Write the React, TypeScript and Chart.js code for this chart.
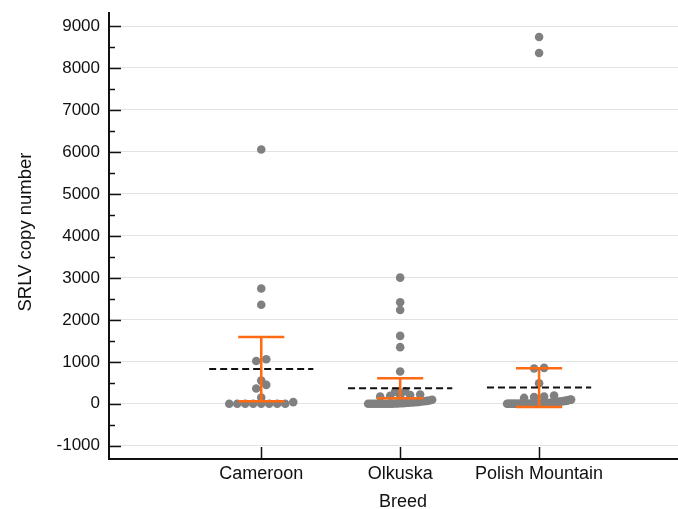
import { useEffect, useRef } from 'react';
import { Chart, registerables } from 'chart.js';

Chart.register(...registerables);

// ---- data ----
const categories = ['Cameroon', 'Olkuska', 'Polish Mountain'];
const xTitle = 'Breed';
const yTitle = 'SRLV copy number';

const cameroonValues = [0, 0, 0, 0, 0, 0, 0, 0, 40, 150, 364, 451, 553, 1021, 1061, 2359, 2748, 6057];

const olkuskaValues = [
  0, 0, 0, 0, 0, 0, 0, 0, 2, 5, 8, 10, 12, 15, 20, 25, 30, 35, 40, 45, 55, 60, 70, 80, 95,
  170, 190, 200, 210, 220, 290, 300,
  769, 1349, 1618, 2236, 2420, 3005,
];

const polishMountainValues = [
  0, 0, 0, 0, 0, 0, 0, 0, 0, 0, 0, 0, 0, 0, 0, 0, 0, 0, 0, 0, 0,
  2, 3, 5, 8, 10, 12, 15, 18, 20, 22, 25, 30, 35, 40, 45, 50, 55, 60, 65, 70, 75, 85, 95, 100,
  140, 160, 175, 195,
  491, 840, 855, 8358, 8739,
];

const groupMeans = [830, 373, 388];
const ciLower = [60, 135, -79];
const ciUpper = [1590, 611, 849];

const yTickValues = [-1000, 0, 1000, 2000, 3000, 4000, 5000, 6000, 7000, 8000, 9000];
const yMinorTickValues = [-500, 500, 1500, 2500, 3500, 4500, 5500, 6500, 7500, 8500];
const yMin = -1315;
const yMax = 9310;
const xMin = -0.096;
const xMax = 4.0;

// ---- layout / style constants ----
const W = 678;
const H = 509;
const LEFT = 109;
const TOP_PAD = 13;
const X_AXIS_H = 50;
const FONT = '"Liberation Sans", Arial, sans-serif';
const TEXT = '#111';
const DOT = '#808080';
const ORANGE = '#FF6A13';

const pxPerUnitX = (W - LEFT) / (xMax - xMin);

function swarm(values: number[], center: number) {
  const sorted = [...values].sort((a, b) => a - b);
  const bins: number[][] = [];
  for (const v of sorted) {
    const last = bins[bins.length - 1];
    if (last && v - last[0] <= 100) last.push(v);
    else bins.push([v]);
  }
  const pts: { x: number; y: number }[] = [];
  for (const bin of bins) {
    const k = bin.length;
    const spacingPx = k > 1 ? Math.min(10, 64 / (k - 1)) : 0;
    bin.forEach((v, i) => {
      pts.push({ x: center + ((i - (k - 1) / 2) * spacingPx) / pxPerUnitX, y: v });
    });
  }
  return pts;
}

const zeroPad = (s: any) => {
  s.paddingTop = 0;
  s.paddingBottom = 0;
  s.paddingLeft = 0;
  s.paddingRight = 0;
};

const overlayPlugin = {
  id: 'overlay',
  beforeDatasetsDraw(chart: any) {
    const { ctx, chartArea, scales } = chart;
    const xs = scales.x;
    const ys = scales.y;
    ctx.save();
    ctx.strokeStyle = TEXT;
    ctx.lineWidth = 1.5;
    const drawY = (v: number, len: number) => {
      const py = Math.round(ys.getPixelForValue(v)) + 0.5;
      ctx.beginPath();
      ctx.moveTo(chartArea.left, py);
      ctx.lineTo(chartArea.left + len, py);
      ctx.stroke();
    };
    yTickValues.forEach((v) => drawY(v, 12));
    yMinorTickValues.forEach((v) => drawY(v, 6));
    categories.forEach((_, i) => {
      const px = Math.round(xs.getPixelForValue(i + 1)) + 0.5;
      ctx.beginPath();
      ctx.moveTo(px, chartArea.bottom);
      ctx.lineTo(px, chartArea.bottom - 12);
      ctx.stroke();
    });
    ctx.restore();
  },
  afterDatasetsDraw(chart: any) {
    const { ctx, scales } = chart;
    const xs = scales.x;
    const ys = scales.y;
    ctx.save();
    ctx.strokeStyle = TEXT;
    ctx.lineWidth = 2;
    ctx.setLineDash([7, 4]);
    groupMeans.forEach((m, i) => {
      const py = ys.getPixelForValue(m);
      ctx.beginPath();
      ctx.moveTo(xs.getPixelForValue(i + 1 - 0.375), py);
      ctx.lineTo(xs.getPixelForValue(i + 1 + 0.375), py);
      ctx.stroke();
    });
    ctx.setLineDash([]);
    ctx.strokeStyle = ORANGE;
    ctx.lineWidth = 2.5;
    categories.forEach((_, i) => {
      const cx = xs.getPixelForValue(i + 1);
      const lo = ys.getPixelForValue(ciLower[i]);
      const hi = ys.getPixelForValue(ciUpper[i]);
      const c1 = xs.getPixelForValue(i + 1 - 0.166);
      const c2 = xs.getPixelForValue(i + 1 + 0.166);
      ctx.beginPath();
      ctx.moveTo(cx, lo);
      ctx.lineTo(cx, hi);
      ctx.moveTo(c1, hi);
      ctx.lineTo(c2, hi);
      ctx.moveTo(c1, lo);
      ctx.lineTo(c2, lo);
      ctx.stroke();
    });
    ctx.restore();
  },
  afterDraw(chart: any) {
    const { ctx } = chart;
    ctx.save();
    ctx.fillStyle = TEXT;
    ctx.font = `18px ${FONT}`;
    ctx.textAlign = 'center';
    ctx.textBaseline = 'alphabetic';
    ctx.fillText(xTitle, 403, 507);
    ctx.translate(31, 232);
    ctx.rotate(-Math.PI / 2);
    ctx.font = `18.5px ${FONT}`;
    ctx.fillText(yTitle, 0, 0);
    ctx.restore();
  },
};

export default function App() {
  const ref = useRef<HTMLCanvasElement | null>(null);

  useEffect(() => {
    if (!ref.current) return;
    const points = [
      ...swarm(cameroonValues, 1),
      ...swarm(olkuskaValues, 2),
      ...swarm(polishMountainValues, 3),
    ];
    const chart = new Chart(ref.current, {
      type: 'scatter',
      data: {
        datasets: [
          {
            data: points,
            backgroundColor: DOT,
            borderWidth: 0,
            pointRadius: 4.3,
            pointHoverRadius: 4.3,
          },
        ],
      },
      options: {
        animation: false,
        responsive: false,
        maintainAspectRatio: false,
        layout: { autoPadding: false, padding: { top: TOP_PAD, right: 0, left: 0, bottom: 0 } },
        plugins: { legend: { display: false }, tooltip: { enabled: false } },
        scales: {
          x: {
            type: 'linear',
            min: xMin,
            max: xMax,
            afterFit: (s: any) => {
              s.height = X_AXIS_H;
              zeroPad(s);
            },
            afterBuildTicks: (s: any) => {
              s.ticks = categories.map((_, i) => ({ value: i + 1 }));
            },
            ticks: {
              callback: (v: any) => categories[Math.round(Number(v)) - 1] ?? '',
              font: { family: FONT, size: 18 },
              color: TEXT,
              padding: 4,
              maxRotation: 0,
              autoSkip: false,
            },
            grid: { display: false, drawTicks: false },
            border: { display: true, color: TEXT, width: 2 },
            title: { display: false },
          },
          y: {
            type: 'linear',
            min: yMin,
            max: yMax,
            afterFit: (s: any) => {
              s.width = LEFT;
              zeroPad(s);
            },
            afterBuildTicks: (s: any) => {
              s.ticks = yTickValues.map((v) => ({ value: v }));
            },
            ticks: {
              callback: (v: any) => String(v),
              font: { family: FONT, size: 17 },
              color: TEXT,
              padding: 9,
              autoSkip: false,
            },
            grid: { color: '#e2e2e2', lineWidth: 1, drawTicks: false },
            border: { display: true, color: TEXT, width: 2 },
            title: { display: false },
          },
        },
      },
      plugins: [overlayPlugin],
    });
    return () => chart.destroy();
  }, []);

  return (
    <div style={{ position: 'absolute', left: 0, top: 0, width: W, height: H, background: '#fff' }}>
      <canvas ref={ref} width={W} height={H} style={{ display: 'block', width: W, height: H }} />
    </div>
  );
}
